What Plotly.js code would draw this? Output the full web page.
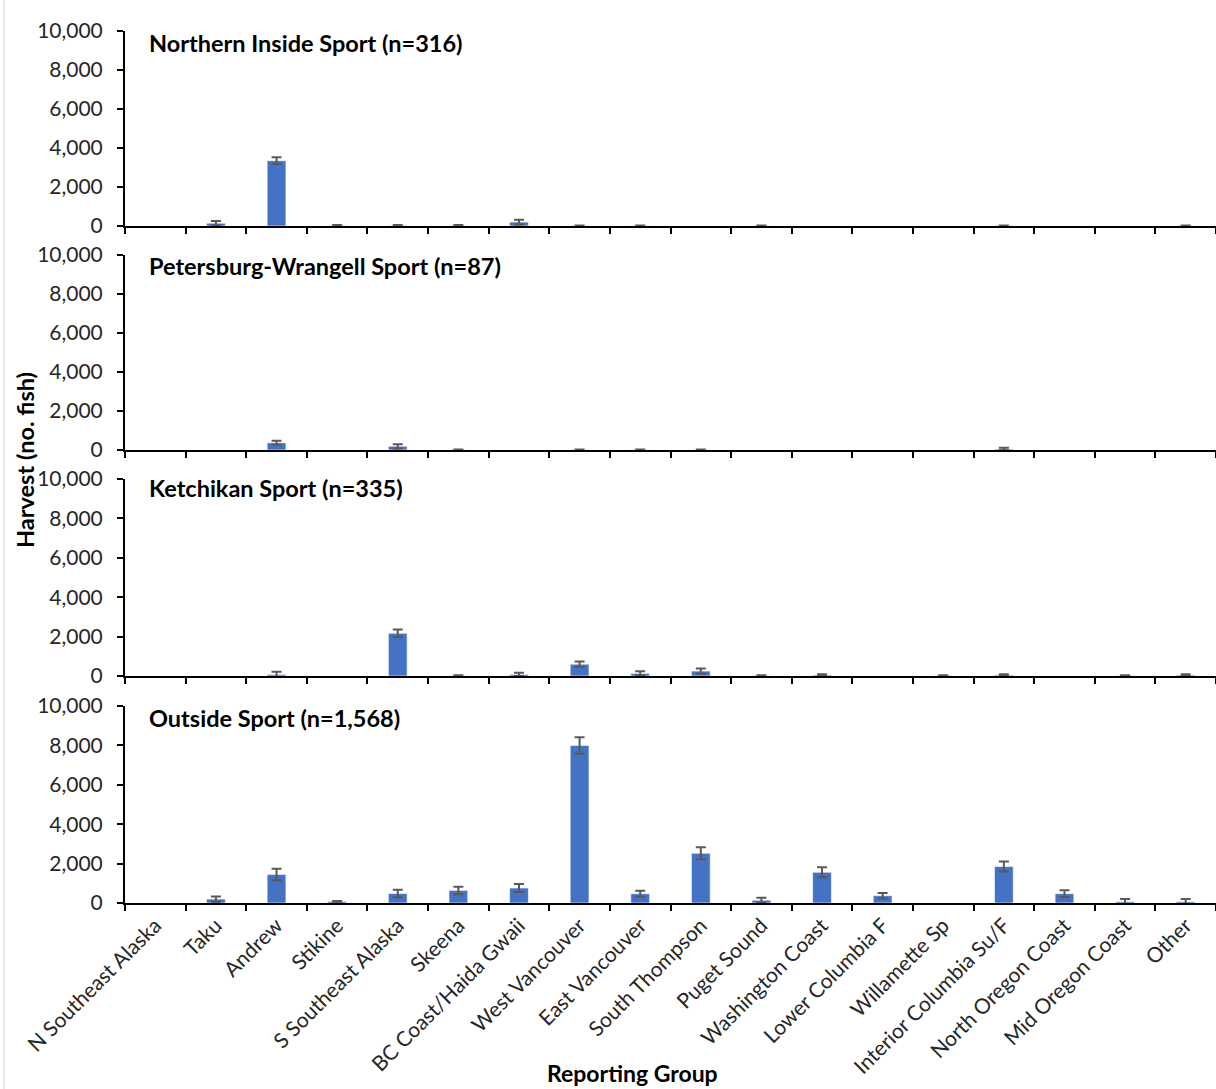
<!DOCTYPE html>
<html>
<head>
<meta charset="utf-8">
<script src="https://cdn.plot.ly/plotly-3.0.1.min.js"></script>
<style>html,body{margin:0;padding:0;background:#fff;}#chart{width:1216px;height:1089px;}</style>
</head>
<body>
<div id="chart"></div>
<script>
const categories = ["N Southeast Alaska","Taku","Andrew","Stikine","S Southeast Alaska","Skeena","BC Coast/Haida Gwaii","West Vancouver","East Vancouver","South Thompson","Puget Sound","Washington Coast","Lower Columbia F","Willamette Sp","Interior Columbia Su/F","North Oregon Coast","Mid Oregon Coast","Other"];

const panelTitles = ["Northern Inside Sport (n=316)","Petersburg-Wrangell Sport (n=87)","Ketchikan Sport (n=335)","Outside Sport (n=1,568)"];

const northernInside = [0,140,3350,20,20,20,200,10,10,0,10,0,0,0,10,0,0,10];
const northernInsideErr = [0,120,170,30,30,30,120,20,20,0,20,0,0,0,20,0,0,20];

const petersburgWrangell = [0,0,370,0,190,10,0,10,10,10,0,0,0,0,50,0,0,0];
const petersburgWrangellErr = [0,0,100,0,110,20,0,20,20,20,0,0,0,0,60,0,0,0];

const ketchikan = [0,0,80,0,2170,20,80,600,130,250,20,50,0,20,50,0,20,50];
const ketchikanErr = [0,0,140,0,190,20,80,140,110,130,20,40,0,20,40,0,20,40];

const outside = [0,200,1450,80,480,640,760,8000,470,2525,140,1560,370,0,1850,475,70,70];
const outsideErr = [0,130,290,20,190,190,200,420,150,300,130,250,140,0,255,170,130,130];

const yTicks = [0,2000,4000,6000,8000,10000];
const xTitle = "Reporting Group";
const yTitle = "Harvest (no. fish)";

const seriesList = [
  [northernInside, northernInsideErr],
  [petersburgWrangell, petersburgWrangellErr],
  [ketchikan, ketchikanErr],
  [outside, outsideErr]
];

const FONT = "Lato, 'Open Sans', sans-serif";
const domains = [[0.7764,1],[0.5195,0.7431],[0.2603,0.4862],[0,0.2259]];
const titleY = [0.9862,0.7305,0.4759,0.2122];

const traces = [];
const layout = {
  width:1216, height:1089,
  margin:{l:125,r:0,t:31,b:186},
  paper_bgcolor:'#fff', plot_bgcolor:'#fff',
  showlegend:false,
  bargap:0.69,
  font:{family:FONT, color:'#404040', size:21},
  annotations:[], shapes:[]
};

seriesList.forEach((s,i)=>{
  const n = i+1;
  const xa = n===1?'x':'x'+n;
  const ya = n===1?'y':'y'+n;
  // categories with no harvest draw nothing (no bar, no error bar)
  const xs = categories.filter((c,k)=>s[0][k]!==0);
  const ys = s[0].filter(v=>v!==0);
  const es = s[1].filter((e,k)=>s[0][k]!==0);
  traces.push({
    type:'bar', x:xs, y:ys, xaxis:xa, yaxis:ya,
    marker:{color:'#4472C4', line:{color:'#ffffff', width:0.6}},
    error_y:{type:'data', array:es, visible:true, color:'#595959', thickness:2, width:5},
    hoverinfo:'x+y'
  });
  const xkey = n===1?'xaxis':'xaxis'+n;
  const ykey = n===1?'yaxis':'yaxis'+n;
  layout[xkey] = {
    type:'category', anchor:ya, domain:[0,1], range:[-0.5,17.5],
    categoryorder:'array', categoryarray:categories,
    showline:true, linecolor:'#000', linewidth:2,
    ticks:'outside', tickson:'boundaries', ticklen:6, tickcolor:'#000', tickwidth:2,
    showgrid:false, zeroline:false,
    showticklabels: n===4, tickangle:-45,
    tickfont:{family:FONT, size:21, color:'#262626'},
    fixedrange:true
  };
  layout[ykey] = {
    anchor:xa, domain:domains[i], range:[0,10000],
    tickvals:yTicks, tickformat:',d',
    showline:true, linecolor:'#000', linewidth:2,
    ticks:'outside', ticklen:6, tickcolor:'#000', tickwidth:2,
    showgrid:false, zeroline:false,
    tickfont:{family:FONT, size:21, color:'#262626'},
    ticklabelstandoff:10,
    fixedrange:true
  };
  layout.annotations.push({
    text:'<b>'+panelTitles[i]+'</b>', xref:'paper', yref:'paper',
    x:0.0202, y:titleY[i], xanchor:'left', yanchor:'middle', showarrow:false,
    font:{family:FONT, size:23.5, color:'#000'}
  });
});

layout.annotations.push({
  text:'<b>'+yTitle+'</b>', xref:'paper', yref:'paper', x:-0.0917, y:0.508,
  xanchor:'center', yanchor:'middle', textangle:-90, showarrow:false,
  font:{family:FONT, size:23.5, color:'#000'}
});
layout.annotations.push({
  text:'<b>'+xTitle+'</b>', xref:'paper', yref:'paper', x:0.4656, y:-0.1945,
  xanchor:'center', yanchor:'middle', showarrow:false,
  font:{family:FONT, size:23, color:'#000'}
});
layout.shapes.push({type:'line', xref:'paper', yref:'paper', x0:-0.1109, x1:-0.1109, y0:-0.2133, y1:1.0356, line:{color:'#d0d0d0', width:1}});

Plotly.newPlot('chart', traces, layout, {displayModeBar:false, staticPlot:true});
</script>
</body>
</html>
